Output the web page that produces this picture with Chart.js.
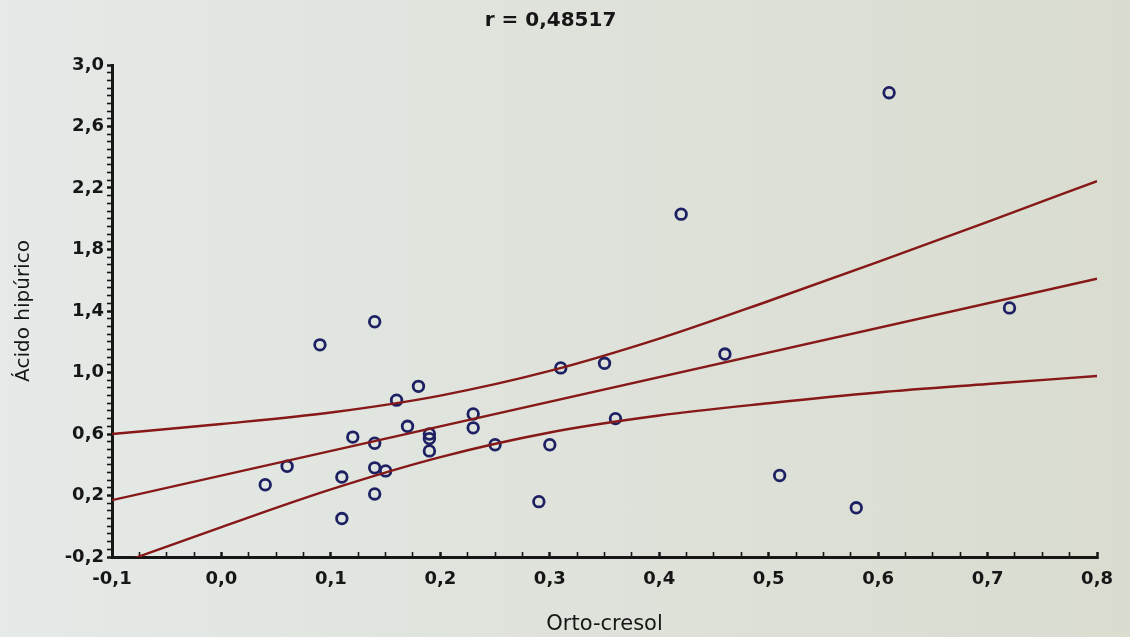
<!DOCTYPE html>
<html>
<head>
<meta charset="utf-8">
<script src="https://cdn.jsdelivr.net/npm/chart.js@4.4.1/dist/chart.umd.min.js"></script>
<style>
    html, body { margin: 0; padding: 0; }
    body { width: 1130px; height: 637px; background: linear-gradient(90deg, #e5eae8 0%, #dfe3dc 45%, #d9dccf 100%); }
    #wrap { position: relative; width: 1130px; height: 637px; }
</style>
</head>
<body>
<div id="wrap"><canvas id="scatterChart"></canvas></div>
<script>
// orto-cresol (x) vs acido hipurico (y)
const ortoCresol = [0.04, 0.06, 0.09, 0.11, 0.11, 0.12, 0.14, 0.14, 0.14, 0.14, 0.15, 0.16, 0.17, 0.18, 0.19, 0.19, 0.19,
    0.23, 0.23, 0.25, 0.29, 0.30, 0.31, 0.35, 0.36, 0.42, 0.46, 0.51, 0.58, 0.61, 0.72];
const acidoHipurico = [0.27, 0.39, 1.18, 0.05, 0.32, 0.58, 1.33, 0.54, 0.38, 0.21, 0.36, 0.82, 0.65, 0.91, 0.60, 0.57, 0.49,
    0.73, 0.64, 0.53, 0.16, 0.53, 1.03, 1.06, 0.70, 2.03, 1.12, 0.33, 0.12, 2.82, 1.42];

// regression line + 95% band
const fitX = [-0.1, 0.8];
const fitY = [0.17, 1.61];
const bandX = [-0.1, 0.0, 0.1, 0.2, 0.3, 0.4, 0.5, 0.6, 0.7, 0.8];
const upperY = [0.60, 0.665, 0.74, 0.85, 1.01, 1.22, 1.465, 1.72, 1.98, 2.245];
const lowerY = [-0.26, -0.005, 0.24, 0.45, 0.61, 0.72, 0.80, 0.87, 0.925, 0.977];

const titleText = 'r = 0,48517';
const xTitle = 'Orto-cresol';
const yTitle = 'Ácido hipúrico';

const inkColor = '#161616';
const lineColor = '#861818';
const pointColor = '#1d2062';

function toPts(xs, ys) { return xs.map((x, i) => ({ x: x, y: ys[i] })); }

function isMajor(v, start, step) {
    const k = (v - start) / step;
    return Math.abs(k - Math.round(k)) < 1e-6;
}

function fmt(v) { return (Math.abs(v) < 1e-9 ? 0 : v).toFixed(1).replace('.', ','); }

document.addEventListener('DOMContentLoaded', () => {
    const ctx = document.getElementById('scatterChart').getContext('2d');
    new Chart(ctx, {
        type: 'scatter',
        data: {
            datasets: [
                { label: 'dados', data: toPts(ortoCresol, acidoHipurico), order: 2, pointStyle: 'circle', pointRadius: 5.3, pointBorderWidth: 2.8, borderColor: pointColor, backgroundColor: 'rgba(0,0,0,0)' },
                { label: 'ajuste', data: toPts(fitX, fitY), order: 1, showLine: true, pointRadius: 0, borderColor: lineColor, borderWidth: 2.4 },
                { label: 'sup', data: toPts(bandX, upperY), order: 1, showLine: true, pointRadius: 0, borderColor: lineColor, borderWidth: 2.4, cubicInterpolationMode: 'monotone' },
                { label: 'inf', data: toPts(bandX, lowerY), order: 1, showLine: true, pointRadius: 0, borderColor: lineColor, borderWidth: 2.4, cubicInterpolationMode: 'monotone' }
            ]
        },
        options: {
            responsive: true,
            maintainAspectRatio: false,
            animation: false,
            layout: { padding: { left: 0, right: 29, top: 0, bottom: 0 } },
            plugins: {
                legend: { display: false },
                tooltip: { enabled: false },
                title: { display: true, text: titleText, color: inkColor, font: { family: 'DejaVu Sans', size: 20, weight: 'bold', lineHeight: 1.2 }, padding: { top: 9, bottom: 32 } }
            },
            scales: {
                x: {
                    type: 'linear', min: -0.1, max: 0.8,
                    border: { display: true, color: inkColor, width: 3 },
                    grid: { drawOnChartArea: false, drawTicks: true, tickLength: -5, tickColor: inkColor, tickWidth: c => isMajor(c.tick.value, -0.1, 0.1) ? 2.5 : 1.6 },
                    ticks: {
                        stepSize: 0.025, autoSkip: false, maxRotation: 0, padding: 17, color: inkColor,
                        font: { family: 'DejaVu Sans', size: 18, weight: 'bold' },
                        callback: v => isMajor(v, -0.1, 0.1) ? fmt(v) : ''
                    },
                    title: { display: true, text: xTitle, color: inkColor, font: { family: 'DejaVu Sans', size: 21 }, padding: { top: 0, bottom: 0 } },
                    afterFit: s => { s.height = 80; }
                },
                y: {
                    type: 'linear', min: -0.2, max: 3.0,
                    border: { display: true, color: inkColor, width: 3 },
                    grid: { drawOnChartArea: false, drawTicks: true, tickLength: 5, tickColor: inkColor, tickWidth: c => isMajor(c.tick.value, -0.2, 0.4) ? 2.5 : 1.6 },
                    ticks: {
                        stepSize: 0.05, autoSkip: false, padding: 3, color: inkColor,
                        font: { family: 'DejaVu Sans', size: 18, weight: 'bold' },
                        callback: v => isMajor(v, -0.2, 0.4) ? fmt(v) : ''
                    },
                    title: { display: true, text: yTitle, color: inkColor, font: { family: 'DejaVu Sans', size: 20 }, padding: { top: 12, bottom: 0 } },
                    afterFit: s => { s.width = 112; }
                }
            }
        }
    });
});
</script>
</body>
</html>
